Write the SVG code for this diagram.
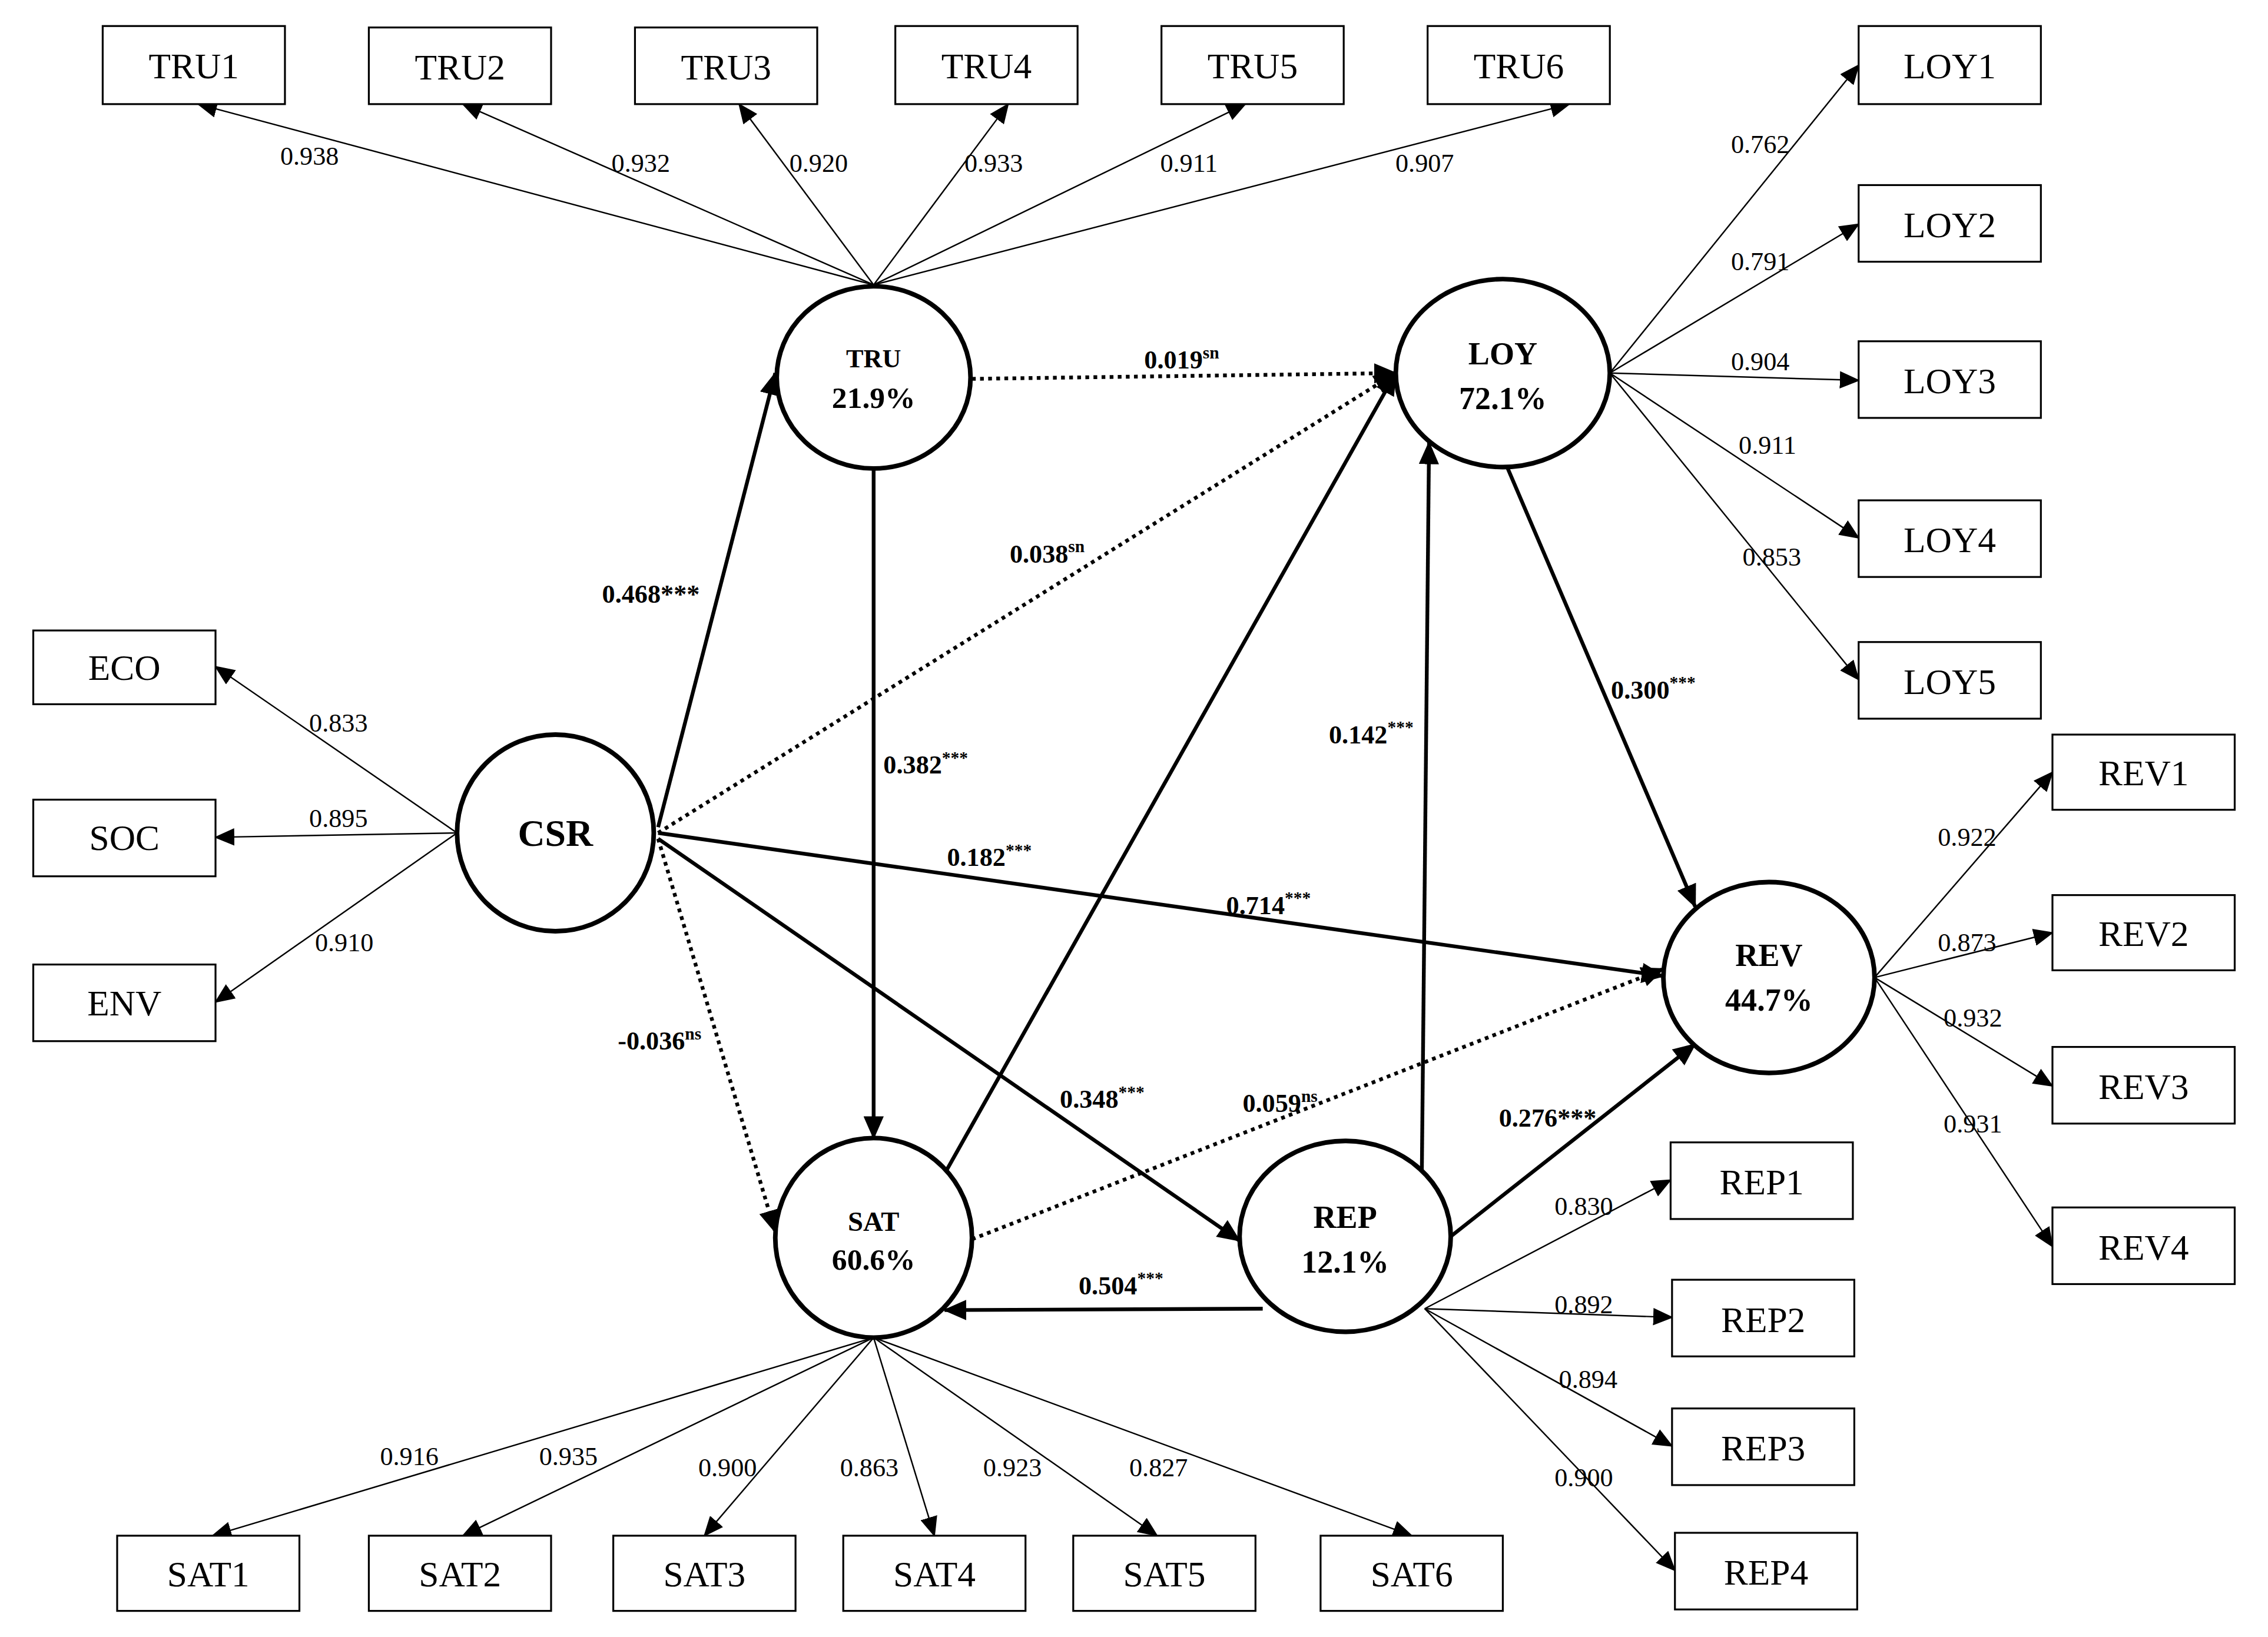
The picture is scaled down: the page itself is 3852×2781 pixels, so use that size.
<svg xmlns="http://www.w3.org/2000/svg" width="3852" height="2781" viewBox="0 0 3852 2781">
<defs>
<marker id="a" markerUnits="userSpaceOnUse" markerWidth="14" markerHeight="12" refX="13" refY="6" orient="auto"><path d="M0,0 L14,6 L0,12 z" fill="#000"/></marker>
<marker id="b" markerUnits="userSpaceOnUse" markerWidth="16" markerHeight="14" refX="15" refY="7" orient="auto"><path d="M0,0 L16,7 L0,14 z" fill="#000"/></marker>
</defs>
<style>
.bx{fill:#fff;stroke:#000;stroke-width:1.3}
.el{fill:#fff;stroke:#000;stroke-width:3.2}
.t{font-family:"Liberation Serif",serif;font-size:25px;text-anchor:middle}
.l{font-family:"Liberation Serif",serif;font-size:18px;text-anchor:middle}
.p{font-family:"Liberation Serif",serif;font-size:18px;font-weight:bold;text-anchor:middle}
.n{font-family:"Liberation Serif",serif;font-weight:bold;text-anchor:middle}
.th{stroke:#000;stroke-width:1;fill:none;marker-end:url(#a)}
.bo{stroke:#000;stroke-width:2.6;fill:none;marker-end:url(#b)}
.dt{stroke:#000;stroke-width:2.6;fill:none;stroke-dasharray:2.6 3;marker-end:url(#b)}
</style>
<rect width="3852" height="2781" fill="#fff"/>
<g transform="scale(2.4566)">
<g id="connectors">
<line class="th" x1="604" y1="197" x2="137" y2="72"/>
<line class="th" x1="604" y1="197" x2="320" y2="72"/>
<line class="th" x1="604" y1="197" x2="511" y2="72"/>
<line class="th" x1="604" y1="197" x2="697" y2="72"/>
<line class="th" x1="604" y1="197" x2="861" y2="72"/>
<line class="th" x1="604" y1="197" x2="1085" y2="72"/>
<line class="th" x1="1113" y1="258" x2="1285" y2="45"/>
<line class="th" x1="1113" y1="258" x2="1285" y2="155"/>
<line class="th" x1="1113" y1="258" x2="1285" y2="263"/>
<line class="th" x1="1113" y1="258" x2="1285" y2="372"/>
<line class="th" x1="1113" y1="258" x2="1285" y2="470"/>
<line class="th" x1="316" y1="576" x2="149" y2="461"/>
<line class="th" x1="316" y1="576" x2="149" y2="579"/>
<line class="th" x1="316" y1="576" x2="149" y2="693"/>
<line class="th" x1="1296" y1="676" x2="1419" y2="534"/>
<line class="th" x1="1296" y1="676" x2="1419" y2="645"/>
<line class="th" x1="1296" y1="676" x2="1419" y2="751"/>
<line class="th" x1="1296" y1="676" x2="1419" y2="862"/>
<line class="th" x1="985" y1="905" x2="1155" y2="816"/>
<line class="th" x1="985" y1="905" x2="1156" y2="911"/>
<line class="th" x1="985" y1="905" x2="1156" y2="1000"/>
<line class="th" x1="985" y1="905" x2="1158" y2="1086"/>
<line class="th" x1="604" y1="925" x2="147" y2="1062"/>
<line class="th" x1="604" y1="925" x2="320" y2="1062"/>
<line class="th" x1="604" y1="925" x2="487" y2="1062"/>
<line class="th" x1="604" y1="925" x2="646" y2="1062"/>
<line class="th" x1="604" y1="925" x2="800" y2="1062"/>
<line class="th" x1="604" y1="925" x2="976" y2="1062"/>
<line class="bo" x1="455" y1="572" x2="536" y2="258"/>
<line class="bo" x1="604" y1="324" x2="604" y2="787"/>
<line class="dt" x1="672" y1="262" x2="965" y2="258"/>
<line class="dt" x1="455" y1="576" x2="965" y2="258"/>
<line class="bo" x1="455" y1="576" x2="1150" y2="675"/>
<line class="dt" x1="455" y1="580" x2="536" y2="852"/>
<line class="bo" x1="455" y1="580" x2="857" y2="858"/>
<line class="bo" x1="654" y1="810" x2="965" y2="258"/>
<line class="bo" x1="983" y1="812" x2="988" y2="306"/>
<line class="bo" x1="1042" y1="323" x2="1172" y2="627"/>
<line class="dt" x1="672" y1="857" x2="1150" y2="670"/>
<line class="bo" x1="1003" y1="855" x2="1172" y2="722"/>
<line class="bo" x1="873" y1="905" x2="653" y2="906"/>
</g>
<g id="loadings">
<text class="l" x="214" y="114">0.938</text>
<text class="l" x="443" y="119">0.932</text>
<text class="l" x="566" y="119">0.920</text>
<text class="l" x="687" y="119">0.933</text>
<text class="l" x="822" y="119">0.911</text>
<text class="l" x="985" y="119">0.907</text>
<text class="l" x="1217" y="106">0.762</text>
<text class="l" x="1217" y="187">0.791</text>
<text class="l" x="1217" y="256">0.904</text>
<text class="l" x="1222" y="314">0.911</text>
<text class="l" x="1225" y="391">0.853</text>
<text class="l" x="234" y="506">0.833</text>
<text class="l" x="234" y="572">0.895</text>
<text class="l" x="238" y="658">0.910</text>
<text class="l" x="1360" y="585">0.922</text>
<text class="l" x="1360" y="658">0.873</text>
<text class="l" x="1364" y="710">0.932</text>
<text class="l" x="1364" y="783">0.931</text>
<text class="l" x="1095" y="840">0.830</text>
<text class="l" x="1095" y="908">0.892</text>
<text class="l" x="1098" y="960">0.894</text>
<text class="l" x="1095" y="1028">0.900</text>
<text class="l" x="283" y="1013">0.916</text>
<text class="l" x="393" y="1013">0.935</text>
<text class="l" x="503" y="1021">0.900</text>
<text class="l" x="601" y="1021">0.863</text>
<text class="l" x="700" y="1021">0.923</text>
<text class="l" x="801" y="1021">0.827</text>
</g>
<g id="paths">
<text class="p" x="450" y="417">0.468***</text>
<text class="p" x="640" y="535">0.382<tspan font-size="12" dy="-7">***</tspan></text>
<text class="p" x="817" y="255">0.019<tspan font-size="12" dy="-7">sn</tspan></text>
<text class="p" x="724" y="389">0.038<tspan font-size="12" dy="-7">sn</tspan></text>
<text class="p" x="684" y="599">0.182<tspan font-size="12" dy="-7">***</tspan></text>
<text class="p" x="877" y="632">0.714<tspan font-size="12" dy="-7">***</tspan></text>
<text class="p" x="456" y="726">-0.036<tspan font-size="12" dy="-7">ns</tspan></text>
<text class="p" x="762" y="766">0.348<tspan font-size="12" dy="-7">***</tspan></text>
<text class="p" x="948" y="514">0.142<tspan font-size="12" dy="-7">***</tspan></text>
<text class="p" x="1143" y="483">0.300<tspan font-size="12" dy="-7">***</tspan></text>
<text class="p" x="885" y="769">0.059<tspan font-size="12" dy="-7">ns</tspan></text>
<text class="p" x="1070" y="779">0.276***</text>
<text class="p" x="775" y="895">0.504<tspan font-size="12" dy="-7">***</tspan></text>
</g>
<g id="TRU1"><rect class="bx" x="71" y="18" width="126" height="54"/><text class="t" x="134" y="54">TRU1</text></g>
<g id="TRU2"><rect class="bx" x="255" y="19" width="126" height="53"/><text class="t" x="318" y="55">TRU2</text></g>
<g id="TRU3"><rect class="bx" x="439" y="19" width="126" height="53"/><text class="t" x="502" y="55">TRU3</text></g>
<g id="TRU4"><rect class="bx" x="619" y="18" width="126" height="54"/><text class="t" x="682" y="54">TRU4</text></g>
<g id="TRU5"><rect class="bx" x="803" y="18" width="126" height="54"/><text class="t" x="866" y="54">TRU5</text></g>
<g id="TRU6"><rect class="bx" x="987" y="18" width="126" height="54"/><text class="t" x="1050" y="54">TRU6</text></g>
<g id="LOY1"><rect class="bx" x="1285" y="18" width="126" height="54"/><text class="t" x="1348" y="54">LOY1</text></g>
<g id="LOY2"><rect class="bx" x="1285" y="128" width="126" height="53"/><text class="t" x="1348" y="164">LOY2</text></g>
<g id="LOY3"><rect class="bx" x="1285" y="236" width="126" height="53"/><text class="t" x="1348" y="272">LOY3</text></g>
<g id="LOY4"><rect class="bx" x="1285" y="346" width="126" height="53"/><text class="t" x="1348" y="382">LOY4</text></g>
<g id="LOY5"><rect class="bx" x="1285" y="444" width="126" height="53"/><text class="t" x="1348" y="480">LOY5</text></g>
<g id="ECO"><rect class="bx" x="23" y="436" width="126" height="51"/><text class="t" x="86" y="470">ECO</text></g>
<g id="SOC"><rect class="bx" x="23" y="553" width="126" height="53"/><text class="t" x="86" y="588">SOC</text></g>
<g id="ENV"><rect class="bx" x="23" y="667" width="126" height="53"/><text class="t" x="86" y="702">ENV</text></g>
<g id="REV1"><rect class="bx" x="1419" y="508" width="126" height="52"/><text class="t" x="1482" y="543">REV1</text></g>
<g id="REV2"><rect class="bx" x="1419" y="619" width="126" height="52"/><text class="t" x="1482" y="654">REV2</text></g>
<g id="REV3"><rect class="bx" x="1419" y="724" width="126" height="53"/><text class="t" x="1482" y="760">REV3</text></g>
<g id="REV4"><rect class="bx" x="1419" y="835" width="126" height="53"/><text class="t" x="1482" y="871">REV4</text></g>
<g id="REP1"><rect class="bx" x="1155" y="790" width="126" height="53"/><text class="t" x="1218" y="826">REP1</text></g>
<g id="REP2"><rect class="bx" x="1156" y="885" width="126" height="53"/><text class="t" x="1219" y="921">REP2</text></g>
<g id="REP3"><rect class="bx" x="1156" y="974" width="126" height="53"/><text class="t" x="1219" y="1010">REP3</text></g>
<g id="REP4"><rect class="bx" x="1158" y="1060" width="126" height="53"/><text class="t" x="1221" y="1096">REP4</text></g>
<g id="SAT1"><rect class="bx" x="81" y="1062" width="126" height="52"/><text class="t" x="144" y="1097">SAT1</text></g>
<g id="SAT2"><rect class="bx" x="255" y="1062" width="126" height="52"/><text class="t" x="318" y="1097">SAT2</text></g>
<g id="SAT3"><rect class="bx" x="424" y="1062" width="126" height="52"/><text class="t" x="487" y="1097">SAT3</text></g>
<g id="SAT4"><rect class="bx" x="583" y="1062" width="126" height="52"/><text class="t" x="646" y="1097">SAT4</text></g>
<g id="SAT5"><rect class="bx" x="742" y="1062" width="126" height="52"/><text class="t" x="805" y="1097">SAT5</text></g>
<g id="SAT6"><rect class="bx" x="913" y="1062" width="126" height="52"/><text class="t" x="976" y="1097">SAT6</text></g>
<g id="TRU"><ellipse class="el" cx="604" cy="261" rx="67" ry="63"/><text class="n" font-size="18" x="604" y="254">TRU</text><text class="n" font-size="21" x="604" y="282">21.9%</text></g>
<g id="LOY"><ellipse class="el" cx="1039" cy="258" rx="74" ry="65"/><text class="n" font-size="22" x="1039" y="252">LOY</text><text class="n" font-size="22" x="1039" y="283">72.1%</text></g>
<g id="CSR"><ellipse class="el" cx="384" cy="576" rx="68" ry="68"/><text class="n" font-size="26" x="384" y="585">CSR</text></g>
<g id="REV"><ellipse class="el" cx="1223" cy="676" rx="73" ry="66"/><text class="n" font-size="22" x="1223" y="668">REV</text><text class="n" font-size="22" x="1223" y="699">44.7%</text></g>
<g id="SAT"><ellipse class="el" cx="604" cy="856" rx="68" ry="69"/><text class="n" font-size="19" x="604" y="851">SAT</text><text class="n" font-size="21" x="604" y="878">60.6%</text></g>
<g id="REP"><ellipse class="el" cx="930" cy="855" rx="73" ry="66"/><text class="n" font-size="22" x="930" y="849">REP</text><text class="n" font-size="22" x="930" y="880">12.1%</text></g>
</g>
</svg>
